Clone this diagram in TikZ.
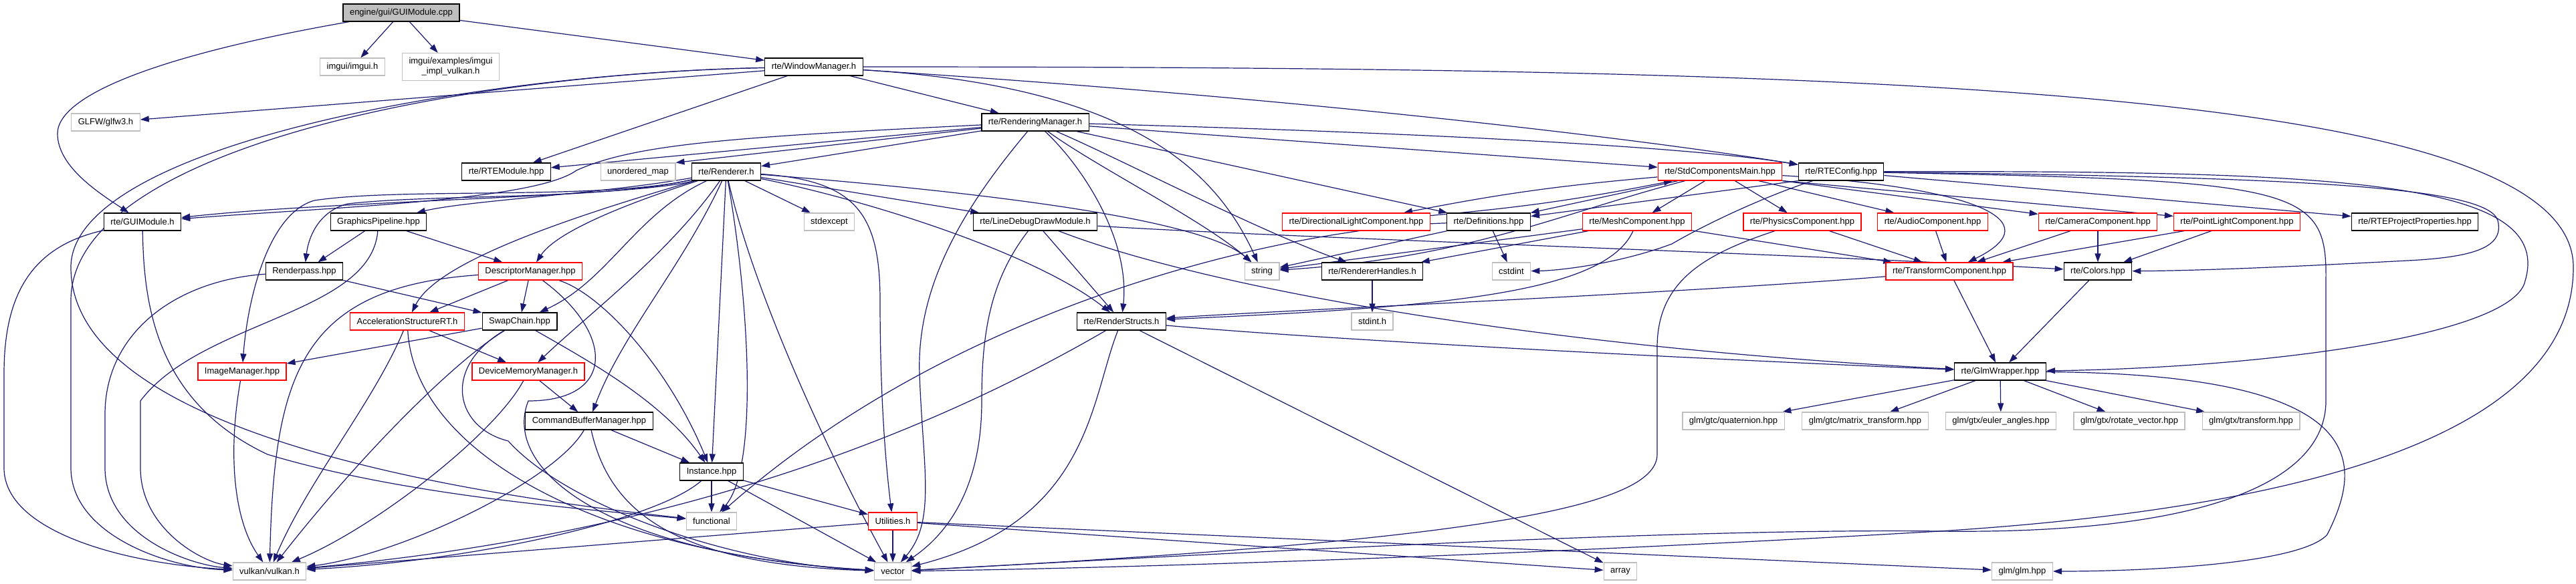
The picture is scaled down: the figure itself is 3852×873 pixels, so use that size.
\documentclass[tikz,border=0pt]{standalone}
\usepackage{fontspec}
\setmainfont{Liberation Sans}
\usetikzlibrary{arrows.meta}
\definecolor{edgeblue}{HTML}{191970}
\definecolor{extgray}{HTML}{BFBFBF}
\pgfdeclarelayer{bg}
\pgfsetlayers{bg,main}

\begin{document}
\begin{tikzpicture}[x=1pt,y=-1pt,>={Triangle[length=13pt,width=9pt]},
  box/.style={draw=black,line width=1.2pt,fill=white,minimum height=26pt,
    inner xsep=10pt,inner ysep=2pt,font=\fontsize{13}{15}\selectfont},
  ext/.style={box,draw=extgray},
  trunc/.style={box,draw=red},
  root/.style={box,fill=extgray},
  dep/.style={->,draw=edgeblue,line width=1.2pt}]
  \useasboundingbox (0,0) rectangle (3852,873);

  % files, row by row
  \node[root] (gcpp) at (600,19) {engine/gui/GUIModule.cpp};

  \node[ext] (imgui) at (527,100) {imgui/imgui.h};
  \node[ext,align=center,minimum height=41pt] (implvk) at (674,100) {imgui/examples/imgui\\\_impl\_vulkan.h};
  \node[box] (wm) at (1217,100) {rte/WindowManager.h};

  \node[ext] (glfw) at (158,183) {GLFW/glfw3.h};
  \node[box] (rm) at (1548,183) {rte/RenderingManager.h};

  \node[box] (rtemod) at (757,257) {rte/RTEModule.hpp};
  \node[ext] (umap) at (954,257) {unordered\_map};
  \node[box] (rend) at (1086,257) {rte/Renderer.h};
  \node[trunc] (stdcomp) at (2572,257) {rte/StdComponentsMain.hpp};
  \node[box] (cfg) at (2753,257) {rte/RTEConfig.hpp};

  \node[box] (guih) at (213,332) {rte/GUIModule.h};
  \node[box] (gpipe) at (566,332) {GraphicsPipeline.hpp};
  \node[ext] (stdexc) at (1240,332) {stdexcept};
  \node[box] (lddm) at (1548,332) {rte/LineDebugDrawModule.h};
  \node[trunc] (dirlight) at (2028,332) {rte/DirectionalLightComponent.hpp};
  \node[box] (defs) at (2226,332) {rte/Definitions.hpp};
  \node[trunc] (mesh) at (2448,332) {rte/MeshComponent.hpp};
  \node[trunc] (phys) at (2695,332) {rte/PhysicsComponent.hpp};
  \node[trunc] (audio) at (2890,332) {rte/AudioComponent.hpp};
  \node[trunc] (cam) at (3137,332) {rte/CameraComponent.hpp};
  \node[trunc] (plight) at (3345,332) {rte/PointLightComponent.hpp};
  \node[box] (projprop) at (3611,332) {rte/RTEProjectProperties.hpp};

  \node[box] (rpass) at (455,406) {Renderpass.hpp};
  \node[trunc] (descm) at (793,406) {DescriptorManager.hpp};
  \node[ext] (string) at (1887,406) {string};
  \node[box] (rhandles) at (2052,406) {rte/RendererHandles.h};
  \node[ext] (cstdint) at (2260,406) {cstdint};
  \node[trunc] (transf) at (2915,406) {rte/TransformComponent.hpp};
  \node[box] (colors) at (3137,406) {rte/Colors.hpp};

  \node[trunc] (accel) at (609,481) {AccelerationStructureRT.h};
  \node[box] (swap) at (777,481) {SwapChain.hpp};
  \node[box] (rstructs) at (1677,481) {rte/RenderStructs.h};
  \node[ext] (stdinth) at (2052,481) {stdint.h};

  \node[trunc] (imgm) at (362,556) {ImageManager.hpp};
  \node[trunc] (devmem) at (790,556) {DeviceMemoryManager.h};
  \node[box] (glmw) at (2991,556) {rte/GlmWrapper.hpp};

  \node[box] (cbm) at (881,630) {CommandBufferManager.hpp};
  \node[ext] (quat) at (2592,630) {glm/gtc/quaternion.hpp};
  \node[ext] (mtx) at (2789,630) {glm/gtc/matrix\_transform.hpp};
  \node[ext] (euler) at (2992,630) {glm/gtx/euler\_angles.hpp};
  \node[ext] (rotv) at (3184,630) {glm/gtx/rotate\_vector.hpp};
  \node[ext] (gtxt) at (3366,630) {glm/gtx/transform.hpp};

  \node[box] (inst) at (1064,706) {Instance.hpp};

  \node[ext] (functional) at (1064,780) {functional};
  \node[trunc] (util) at (1335,780) {Utilities.h};

  \node[ext] (vulkan) at (403,855) {vulkan/vulkan.h};
  \node[ext] (vector) at (1335,855) {vector};
  \node[ext] (array) at (2423,855) {array};
  \node[ext] (glmh) at (3024,855) {glm/glm.hpp};

  \begin{pgfonlayer}{bg}
  % GUIModule.cpp
  \draw[dep] (gcpp) .. controls (250,80) and (86,140) .. (86,200) .. controls (86,250) and (150,290) .. (guih);
  \draw[dep] (gcpp) -- (imgui);
  \draw[dep] (gcpp) -- (implvk);
  \draw[dep] (gcpp) -- (wm);

  % WindowManager.h
  \draw[dep] (wm) -- (glfw);
  \draw[dep] (wm) -- (rtemod);
  \draw[dep] (wm) -- (rm);
  \draw[dep] (wm) .. controls (1700,130) and (1820,260) .. (string);
  \draw[dep] (wm) .. controls (2000,150) and (2500,215) .. (cfg);
  \draw[dep] (wm) .. controls (2800,100) and (3848,130) .. (3848,400) .. controls (3848,650) and (3450,760) .. (2900,795) .. controls (2300,830) and (1700,850) .. (vector);
  \draw[dep] (wm) .. controls (700,110) and (106,220) .. (106,450) -- (106,700) .. controls (106,800) and (250,850) .. (vulkan);
  \draw[dep] (wm) .. controls (700,110) and (106,220) .. (106,400) .. controls (106,650) and (700,740) .. (functional);

  % RenderingManager.h
  \draw[dep] (rm) -- (rtemod);
  \draw[dep] (rm) -- (umap.north east);
  \draw[dep] (rm) -- (rend);
  \draw[dep] (rm) .. controls (1100,205) and (950,215) .. (862,255) .. controls (800,300) and (500,310) .. (guih);
  \draw[dep] (rm) .. controls (2000,195) and (2500,215) .. (cfg);
  \draw[dep] (rm) -- (stdcomp);
  \draw[dep] (rm) -- (defs);
  \draw[dep] (rm) .. controls (1680,240) and (1880,345) .. (rhandles);
  \draw[dep] (rm) .. controls (1640,250) and (1800,330) .. (string);
  \draw[dep] (rm) .. controls (1620,250) and (1690,360) .. (rstructs);
  \draw[dep] (rm) .. controls (1450,300) and (1370,420) .. (1375,560) .. controls (1380,700) and (1400,780) .. (vector);

  % Renderer.h
  \draw[dep] (rend) .. controls (950,295) and (500,300) .. (guih);
  \draw[dep] (rend) .. controls (900,290) and (700,300) .. (gpipe);
  \draw[dep] (rend) .. controls (900,300) and (650,290) .. (520,305) .. controls (480,315) and (462,350) .. (rpass);
  \draw[dep] (rend) .. controls (900,300) and (600,280) .. (470,300) .. controls (400,320) and (370,450) .. (imgm);
  \draw[dep] (rend) .. controls (920,310) and (830,350) .. (descm);
  \draw[dep] (rend) .. controls (800,340) and (650,400) .. (accel);
  \draw[dep] (rend) .. controls (950,320) and (910,420) .. (swap);
  \draw[dep] (rend) .. controls (1000,380) and (880,470) .. (devmem);
  \draw[dep] (rend) .. controls (1020,400) and (930,500) .. (cbm);
  \draw[dep] (rend) -- (inst);
  \draw[dep] (rend) .. controls (1120,450) and (1135,700) .. (functional);
  \draw[dep] (rend) .. controls (1130,450) and (1250,700) .. (vector);
  \draw[dep] (rend) .. controls (1280,270) and (1316,320) .. (1316,450) .. controls (1316,600) and (1325,700) .. (util);
  \draw[dep] (rend) -- (stdexc);
  \draw[dep] (rend) -- (lddm);
  \draw[dep] (rend) .. controls (1300,300) and (1550,380) .. (rstructs);
  \draw[dep] (rend) .. controls (1500,290) and (1800,330) .. (string);

  % GUIModule.h
  \draw[dep] (guih) .. controls (40,370) and (6,450) .. (6,560) -- (6,700) .. controls (6,800) and (200,845) .. (vulkan);
  \draw[dep] (guih) .. controls (215,450) and (230,600) .. (400,680) .. controls (600,740) and (850,760) .. (functional);

  % GraphicsPipeline.hpp, Renderpass.hpp
  \draw[dep] (gpipe) -- (rpass);
  \draw[dep] (gpipe) -- (descm);
  \draw[dep] (gpipe) .. controls (555,470) and (300,480) .. (210,600) -- (210,700) .. controls (210,790) and (300,840) .. (vulkan);
  \draw[dep] (rpass) -- (swap);
  \draw[dep] (rpass) .. controls (260,420) and (157,500) .. (157,620) -- (157,700) .. controls (157,800) and (280,845) .. (vulkan);

  % DescriptorManager.hpp
  \draw[dep] (descm) -- (accel);
  \draw[dep] (descm) -- (swap);
  \draw[dep] (descm) .. controls (900,440) and (1000,550) .. (inst);
  \draw[dep] (descm) .. controls (450,430) and (410,560) .. (vulkan);
  \draw[dep] (descm) .. controls (920,500) and (920,600) .. (790,600) .. controls (750,700) and (900,830) .. (vector);

  % AccelerationStructureRT.h, SwapChain.hpp
  \draw[dep] (accel) -- (devmem);
  \draw[dep] (accel) .. controls (560,600) and (460,720) .. (vulkan);
  \draw[dep] (accel) .. controls (620,680) and (900,830) .. (vector);
  \draw[dep] (swap) -- (imgm);
  \draw[dep] (swap) .. controls (880,540) and (990,600) .. (inst);
  \draw[dep] (swap) .. controls (680,540) and (540,680) .. (vulkan);
  \draw[dep] (swap) .. controls (660,550) and (680,640) .. (760,660) .. controls (850,760) and (1100,845) .. (vector);

  % DeviceMemoryManager.h, CommandBufferManager.hpp, ImageManager.hpp
  \draw[dep] (devmem) -- (cbm);
  \draw[dep] (devmem) .. controls (740,650) and (560,790) .. (vulkan);
  \draw[dep] (cbm) -- (inst);
  \draw[dep] (cbm) .. controls (830,720) and (600,830) .. (vulkan);
  \draw[dep] (cbm) .. controls (910,760) and (1000,845) .. (vector);
  \draw[dep] (imgm) .. controls (340,680) and (350,780) .. (vulkan);

  % Instance.hpp, Utilities.h
  \draw[dep] (inst) -- (functional);
  \draw[dep] (inst) -- (vector);
  \draw[dep] (inst) -- (util);
  \draw[dep] (inst) .. controls (980,780) and (700,840) .. (vulkan);
  \draw[dep] (util) -- (vector);
  \draw[dep] (util) -- (vulkan);
  \draw[dep] (util) -- (array);
  \draw[dep] (util) -- (glmh);

  % LineDebugDrawModule.h, RenderStructs.h
  \draw[dep] (lddm) -- (rstructs);
  \draw[dep] (lddm) .. controls (1480,420) and (1468,500) .. (1468,600) .. controls (1468,750) and (1400,810) .. (vector);
  \draw[dep] (lddm) .. controls (1800,430) and (2300,520) .. (glmw);
  \draw[dep] (lddm) .. controls (1900,355) and (2700,380) .. (colors);
  \draw[dep] (rstructs) .. controls (1630,600) and (1630,780) .. (vector);
  \draw[dep] (rstructs) .. controls (1300,700) and (900,810) .. (vulkan);
  \draw[dep] (rstructs) -- (array);
  \draw[dep] (rstructs) .. controls (2000,510) and (2600,540) .. (glmw);

  % RendererHandles.h, Definitions.hpp
  \draw[dep] (rhandles) -- (stdinth);
  \draw[dep] (defs) -- (string);
  \draw[dep] (defs) -- (cstdint);
  \draw[dep] (defs) .. controls (1950,340) and (1450,440) .. (functional);

  % StdComponentsMain.hpp
  \draw[dep] (stdcomp) to[bend right=3] (dirlight);
  \draw[dep] (dirlight) to[bend right=3] (stdcomp);
  \draw[dep] (stdcomp) -- (defs);
  \draw[dep] (stdcomp) -- (mesh);
  \draw[dep] (stdcomp) -- (phys);
  \draw[dep] (stdcomp) -- (audio);
  \draw[dep] (stdcomp.south east) -- (cam);
  \draw[dep] (stdcomp.south east) -- (plight);
  \draw[dep] (stdcomp) .. controls (2950,280) and (3070,330) .. (transf);
  \draw[dep] (stdcomp) .. controls (2330,320) and (2200,385) .. (string);

  % RTEConfig.hpp
  \draw[dep] (cfg) -- (projprop);
  \draw[dep] (cfg.south west) -- (defs);
  \draw[dep] (cfg) .. controls (2650,290) and (2560,330) .. (2500,365) .. controls (2420,395) and (2330,405) .. (cstdint);
  \draw[dep] (cfg) .. controls (3450,265) and (3720,280) .. (3735,330) .. controls (3745,370) and (3700,385) .. (3600,390) .. controls (3450,398) and (3300,405) .. (colors);
  \draw[dep] (cfg) .. controls (3500,255) and (3820,270) .. (3776,420) .. controls (3760,500) and (3400,550) .. (glmw);
  \draw[dep] (cfg) .. controls (3440,270) and (3480,280) .. (3478,420) -- (3478,600) .. controls (3478,720) and (3300,800) .. (2900,795) .. controls (2500,790) and (1800,830) .. (vector);

  % components
  \draw[dep] (mesh) -- (string);
  \draw[dep] (mesh) -- (rhandles);
  \draw[dep] (mesh) .. controls (2400,440) and (2150,460) .. (rstructs);
  \draw[dep] (mesh) -- (transf);
  \draw[dep] (phys) -- (transf);
  \draw[dep] (phys) .. controls (2550,380) and (2478,420) .. (2478,520) -- (2478,680) .. controls (2478,760) and (2200,810) .. (vector);
  \draw[dep] (audio) -- (transf);
  \draw[dep] (cam) -- (transf);
  \draw[dep] (cam) -- (colors);
  \draw[dep] (plight) -- (transf);
  \draw[dep] (plight) -- (colors);
  \draw[dep] (transf) -- (glmw);
  \draw[dep] (transf) .. controls (2500,440) and (1900,465) .. (rstructs);
  \draw[dep] (colors) -- (glmw);

  % GlmWrapper.hpp
  \draw[dep] (glmw) -- (quat);
  \draw[dep] (glmw) -- (mtx);
  \draw[dep] (glmw) -- (euler);
  \draw[dep] (glmw) -- (rotv);
  \draw[dep] (glmw) -- (gtxt);
  \draw[dep] (glmw) .. controls (3560,560) and (3530,700) .. (3480,800) .. controls (3440,845) and (3200,855) .. (glmh);
  \end{pgfonlayer}
\end{tikzpicture}
\end{document}
